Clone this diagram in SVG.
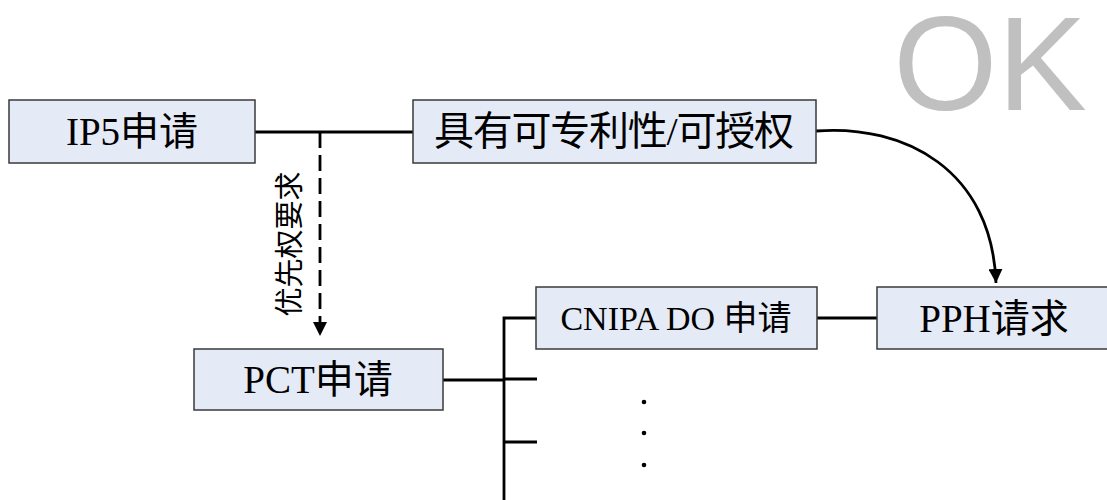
<svg xmlns="http://www.w3.org/2000/svg" width="1107" height="500" viewBox="0 0 1107 500">
<style>
.box{fill:#e5ebf6;stroke:#3a3a3a;stroke-width:1.5}
.t{font-family:"Liberation Serif","Noto Sans CJK SC",serif;fill:#000;text-anchor:middle}
.ln{fill:none;stroke:#000;stroke-width:2.8}
</style>
<defs>
<marker id="ah" viewBox="0 0 10 10" refX="10" refY="5" markerWidth="5" markerHeight="5" markerUnits="strokeWidth" orient="auto">
<path d="M0,0 L10,5 L0,10 z" fill="#000"/>
</marker>
</defs>
<text x="990" y="110" font-family="Liberation Sans,Arial,sans-serif" font-size="134" fill="#c0c0c0" text-anchor="middle">OK</text>
<g id="connectors">
<path class="ln" d="M255,132 H413"/>
<path class="ln" d="M320,132 V336" stroke-dasharray="16,7" marker-end="url(#ah)"/>
<path class="ln" d="M816,131 C905,124 992,170 996,283" marker-end="url(#ah)"/>
<path class="ln" d="M443,380 H504"/>
<path class="ln" d="M504,500 V318 H536"/>
<path class="ln" d="M504,379 H537"/>
<path class="ln" d="M504,442 H537"/>
<path class="ln" d="M817,318 H877"/>
<text class="t" font-size="29" transform="translate(300,244) rotate(-90)">优先权要求</text>
</g>
<g id="ip5"><rect class="box" x="9" y="100" width="246" height="63"/><text class="t" x="132" y="145" font-size="39">IP5申请</text></g>
<g id="patentable"><rect class="box" x="413" y="100" width="403" height="63"/><text class="t" x="614" y="145" font-size="40" textLength="360" lengthAdjust="spacing">具有可专利性/可授权</text></g>
<g id="pct"><rect class="box" x="194" y="349" width="249" height="61"/><text class="t" x="318" y="393" font-size="39">PCT申请</text></g>
<g id="cnipa"><rect class="box" x="536" y="287" width="281" height="62"/><text class="t" x="676" y="330" font-size="34">CNIPA DO 申请</text></g>
<g id="pph"><rect class="box" x="877" y="287" width="240" height="62"/><text class="t" x="994" y="332" font-size="39">PPH请求</text></g>
<g id="dots" fill="#000"><circle cx="644" cy="402" r="2.3"/><circle cx="644" cy="433" r="2.3"/><circle cx="644" cy="465" r="2.3"/></g>
</svg>
